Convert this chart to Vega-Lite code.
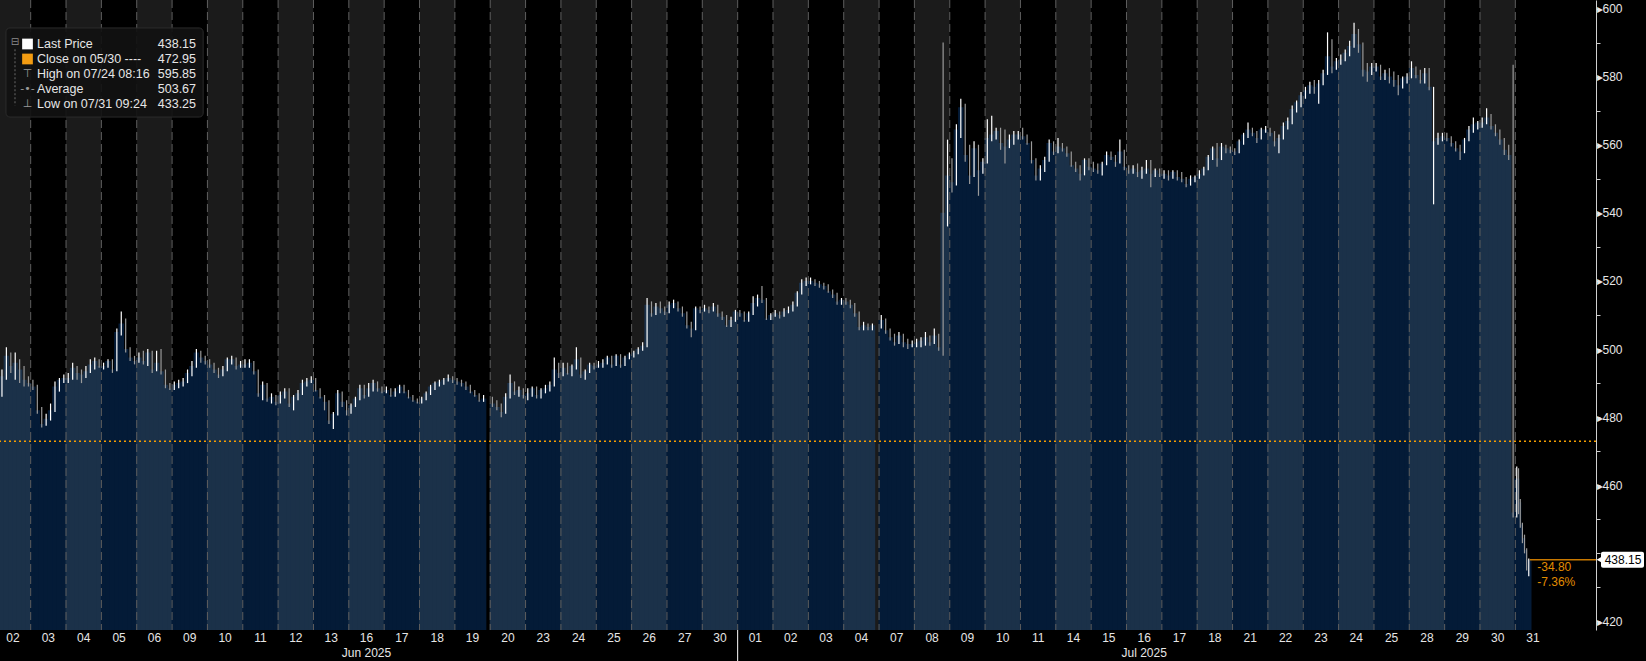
{
"$schema":"https://vega.github.io/schema/vega-lite/v6.json",
"width":1596,"height":630,
"autosize":{"type":"none"},
"padding":{"left":0,"top":0,"right":50,"bottom":31},
"background":"#000000",
"config":{"view":{"stroke":null},"font":"Liberation Sans","axis":{"zindex":1}},
"datasets":{
"days":[
{"s":0,"e":1,"mid":0.5,"lab":"02","date":"2025-06-02"},{"s":1,"e":2,"mid":1.5,"lab":"03","date":"2025-06-03"},{"s":2,"e":3,"mid":2.5,"lab":"04","date":"2025-06-04"},{"s":3,"e":4,"mid":3.5,"lab":"05","date":"2025-06-05"},{"s":4,"e":5,"mid":4.5,"lab":"06","date":"2025-06-06"},
{"s":5,"e":6,"mid":5.5,"lab":"09","date":"2025-06-09"},{"s":6,"e":7,"mid":6.5,"lab":"10","date":"2025-06-10"},{"s":7,"e":8,"mid":7.5,"lab":"11","date":"2025-06-11"},{"s":8,"e":9,"mid":8.5,"lab":"12","date":"2025-06-12"},{"s":9,"e":10,"mid":9.5,"lab":"13","date":"2025-06-13"},
{"s":10,"e":11,"mid":10.5,"lab":"16","date":"2025-06-16"},{"s":11,"e":12,"mid":11.5,"lab":"17","date":"2025-06-17"},{"s":12,"e":13,"mid":12.5,"lab":"18","date":"2025-06-18"},{"s":13,"e":14,"mid":13.5,"lab":"19","date":"2025-06-19"},{"s":14,"e":15,"mid":14.5,"lab":"20","date":"2025-06-20"},
{"s":15,"e":16,"mid":15.5,"lab":"23","date":"2025-06-23"},{"s":16,"e":17,"mid":16.5,"lab":"24","date":"2025-06-24"},{"s":17,"e":18,"mid":17.5,"lab":"25","date":"2025-06-25"},{"s":18,"e":19,"mid":18.5,"lab":"26","date":"2025-06-26"},{"s":19,"e":20,"mid":19.5,"lab":"27","date":"2025-06-27"},
{"s":20,"e":21,"mid":20.5,"lab":"30","date":"2025-06-30"},{"s":21,"e":22,"mid":21.5,"lab":"01","date":"2025-07-01"},{"s":22,"e":23,"mid":22.5,"lab":"02","date":"2025-07-02"},{"s":23,"e":24,"mid":23.5,"lab":"03","date":"2025-07-03"},{"s":24,"e":25,"mid":24.5,"lab":"04","date":"2025-07-04"},
{"s":25,"e":26,"mid":25.5,"lab":"07","date":"2025-07-07"},{"s":26,"e":27,"mid":26.5,"lab":"08","date":"2025-07-08"},{"s":27,"e":28,"mid":27.5,"lab":"09","date":"2025-07-09"},{"s":28,"e":29,"mid":28.5,"lab":"10","date":"2025-07-10"},{"s":29,"e":30,"mid":29.5,"lab":"11","date":"2025-07-11"},
{"s":30,"e":31,"mid":30.5,"lab":"14","date":"2025-07-14"},{"s":31,"e":32,"mid":31.5,"lab":"15","date":"2025-07-15"},{"s":32,"e":33,"mid":32.5,"lab":"16","date":"2025-07-16"},{"s":33,"e":34,"mid":33.5,"lab":"17","date":"2025-07-17"},{"s":34,"e":35,"mid":34.5,"lab":"18","date":"2025-07-18"},
{"s":35,"e":36,"mid":35.5,"lab":"21","date":"2025-07-21"},{"s":36,"e":37,"mid":36.5,"lab":"22","date":"2025-07-22"},{"s":37,"e":38,"mid":37.5,"lab":"23","date":"2025-07-23"},{"s":38,"e":39,"mid":38.5,"lab":"24","date":"2025-07-24"},{"s":39,"e":40,"mid":39.5,"lab":"25","date":"2025-07-25"},
{"s":40,"e":41,"mid":40.5,"lab":"28","date":"2025-07-28"},{"s":41,"e":42,"mid":41.5,"lab":"29","date":"2025-07-29"},{"s":42,"e":43,"mid":42.5,"lab":"30","date":"2025-07-30"},{"s":43,"e":44,"mid":43.5,"lab":"31","date":"2025-07-31"}
],
"months":[{"m":"Jun 2025","start":0,"mid":10.5},{"m":"Jul 2025","start":21,"mid":32.5}],
"bars":[
{"t":0.0625,"o":489,"h":490,"l":485,"c":487},{"t":0.1875,"o":487,"h":494,"l":486,"c":492},{"t":0.3125,"o":492,"h":500.5,"l":491,"c":498},{"t":0.4375,"o":498,"h":499,"l":493,"c":495},{"t":0.5625,"o":495,"h":499,"l":491,"c":496},{"t":0.6875,"o":496,"h":497,"l":490,"c":494},{"t":0.8125,"o":494,"h":495,"l":489,"c":491},{"t":0.9375,"o":491,"h":492,"l":489,"c":490},
{"t":1.0625,"o":490,"h":491,"l":488,"c":489},{"t":1.1875,"o":489,"h":489.5,"l":481,"c":482},{"t":1.3125,"o":482,"h":483,"l":477,"c":478},{"t":1.4375,"o":478,"h":481,"l":477.5,"c":479.5},{"t":1.5625,"o":479.5,"h":484,"l":479,"c":482},{"t":1.6875,"o":482,"h":490.5,"l":481.5,"c":489},{"t":1.8125,"o":489,"h":491.5,"l":487.5,"c":491},{"t":1.9375,"o":491,"h":492.5,"l":490,"c":491.5},
{"t":2.0625,"o":491.5,"h":493,"l":490,"c":491.5},{"t":2.1875,"o":491.5,"h":496,"l":491,"c":494.5},{"t":2.3125,"o":494.5,"h":495,"l":491,"c":493},{"t":2.4375,"o":493,"h":494,"l":490,"c":492.5},{"t":2.5625,"o":492.5,"h":495,"l":491.5,"c":493.5},{"t":2.6875,"o":493.5,"h":497,"l":493,"c":495.5},{"t":2.8125,"o":495.5,"h":497.5,"l":494,"c":496.5},{"t":2.9375,"o":496.5,"h":497,"l":494.5,"c":495},
{"t":3.0625,"o":495,"h":496,"l":494,"c":495},{"t":3.1875,"o":495,"h":497,"l":494.5,"c":496.5},{"t":3.3125,"o":496.5,"h":497,"l":493,"c":494},{"t":3.4375,"o":494,"h":506,"l":493.5,"c":505},{"t":3.5625,"o":505,"h":511,"l":504,"c":507.5},{"t":3.6875,"o":507.5,"h":509,"l":499,"c":500},{"t":3.8125,"o":500,"h":500.5,"l":496.5,"c":497.5},{"t":3.9375,"o":497.5,"h":498,"l":495.5,"c":496.5},
{"t":4.0625,"o":496.5,"h":499,"l":496,"c":497.5},{"t":4.1875,"o":497.5,"h":499.5,"l":495.5,"c":496.5},{"t":4.3125,"o":496.5,"h":500,"l":495,"c":499},{"t":4.4375,"o":499,"h":499.5,"l":493,"c":494},{"t":4.5625,"o":494,"h":499.5,"l":493.5,"c":496},{"t":4.6875,"o":496,"h":500,"l":492.5,"c":493.5},{"t":4.8125,"o":493.5,"h":494,"l":488.5,"c":489.5},{"t":4.9375,"o":489.5,"h":490,"l":488,"c":488.5},
{"t":5.0625,"o":488.5,"h":490.5,"l":488,"c":489.5},{"t":5.1875,"o":489.5,"h":491,"l":488.5,"c":490},{"t":5.3125,"o":490,"h":491.5,"l":489,"c":490.5},{"t":5.4375,"o":490.5,"h":494,"l":490,"c":493},{"t":5.5625,"o":493,"h":496.5,"l":492,"c":495},{"t":5.6875,"o":495,"h":500,"l":494.5,"c":499},{"t":5.8125,"o":499,"h":499.5,"l":496,"c":497.5},{"t":5.9375,"o":497.5,"h":498,"l":495.5,"c":496.5},
{"t":6.0625,"o":496.5,"h":497,"l":494.5,"c":495.5},{"t":6.1875,"o":495.5,"h":496,"l":493,"c":494},{"t":6.3125,"o":494,"h":494.5,"l":491.5,"c":492.5},{"t":6.4375,"o":492.5,"h":495,"l":492,"c":494},{"t":6.5625,"o":494,"h":497.5,"l":493.5,"c":497},{"t":6.6875,"o":497,"h":498,"l":495.5,"c":497},{"t":6.8125,"o":497,"h":497.5,"l":494,"c":495},{"t":6.9375,"o":495,"h":496.5,"l":494.5,"c":495.5},
{"t":7.0625,"o":495.5,"h":497,"l":494.5,"c":495.5},{"t":7.1875,"o":495.5,"h":497,"l":494.5,"c":496},{"t":7.3125,"o":496,"h":496.5,"l":492.5,"c":493.5},{"t":7.4375,"o":493.5,"h":494,"l":486,"c":487},{"t":7.5625,"o":487,"h":490.5,"l":485,"c":489.5},{"t":7.6875,"o":489.5,"h":490,"l":484.5,"c":485.5},{"t":7.8125,"o":485.5,"h":487,"l":484,"c":486},{"t":7.9375,"o":486,"h":486.5,"l":483.5,"c":484.5},
{"t":8.0625,"o":484.5,"h":487.5,"l":484,"c":486.5},{"t":8.1875,"o":486.5,"h":488.5,"l":485.5,"c":487.5},{"t":8.3125,"o":487.5,"h":488.5,"l":483,"c":484},{"t":8.4375,"o":484,"h":486.5,"l":482,"c":486},{"t":8.5625,"o":486,"h":488,"l":485,"c":487},{"t":8.6875,"o":487,"h":491,"l":486.5,"c":490},{"t":8.8125,"o":490,"h":491.5,"l":489,"c":490.5},{"t":8.9375,"o":490.5,"h":492,"l":490,"c":491},
{"t":9.0625,"o":491,"h":491.5,"l":487.5,"c":488},{"t":9.1875,"o":488,"h":488.5,"l":485.5,"c":486},{"t":9.3125,"o":486,"h":486.5,"l":482,"c":484.5},{"t":9.4375,"o":484.5,"h":485,"l":478,"c":479},{"t":9.5625,"o":479,"h":481.5,"l":476.5,"c":481},{"t":9.6875,"o":481,"h":488,"l":480.5,"c":487},{"t":9.8125,"o":487,"h":487.5,"l":483,"c":484.5},{"t":9.9375,"o":484.5,"h":485,"l":480.5,"c":482},
{"t":10.0625,"o":482,"h":484,"l":481,"c":483.5},{"t":10.1875,"o":483.5,"h":486,"l":483,"c":485.5},{"t":10.3125,"o":485.5,"h":489.5,"l":485,"c":488.5},{"t":10.4375,"o":488.5,"h":489.5,"l":485.5,"c":486.5},{"t":10.5625,"o":486.5,"h":490,"l":486,"c":488.5},{"t":10.6875,"o":488.5,"h":491,"l":487.5,"c":490},{"t":10.8125,"o":490,"h":490.5,"l":487.5,"c":488.5},{"t":10.9375,"o":488.5,"h":489,"l":487,"c":487.5},
{"t":11.0625,"o":487.5,"h":489,"l":487,"c":488},{"t":11.1875,"o":488,"h":488.5,"l":486,"c":486.5},{"t":11.3125,"o":486.5,"h":488.5,"l":486,"c":487.5},{"t":11.4375,"o":487.5,"h":489.5,"l":487,"c":489},{"t":11.5625,"o":489,"h":489.5,"l":487,"c":487.5},{"t":11.6875,"o":487.5,"h":488,"l":485.5,"c":486},{"t":11.8125,"o":486,"h":486.5,"l":484.5,"c":485},{"t":11.9375,"o":485,"h":485.5,"l":484,"c":484.5},
{"t":12.0625,"o":484.5,"h":486,"l":484,"c":485.5},{"t":12.1875,"o":485.5,"h":487.5,"l":485,"c":487},{"t":12.3125,"o":487,"h":489.5,"l":486.5,"c":489},{"t":12.4375,"o":489,"h":490.5,"l":488,"c":490},{"t":12.5625,"o":490,"h":491,"l":489,"c":490.5},{"t":12.6875,"o":490.5,"h":491.5,"l":489.5,"c":491},{"t":12.8125,"o":491,"h":492.5,"l":490.5,"c":491.5},{"t":12.9375,"o":491.5,"h":492,"l":490,"c":491},
{"t":13.0625,"o":491,"h":491.5,"l":489.5,"c":490.5},{"t":13.1875,"o":490.5,"h":491,"l":489,"c":490},{"t":13.3125,"o":490,"h":490.5,"l":488,"c":489},{"t":13.4375,"o":489,"h":489.5,"l":487,"c":487.5},{"t":13.5625,"o":487.5,"h":488,"l":486,"c":486.5},{"t":13.6875,"o":486.5,"h":487,"l":484.5,"c":485},{"t":13.8125,"o":485,"h":486.5,"l":484.5,"c":485.5},
{"t":14.0625,"o":485.5,"h":486,"l":483,"c":484},{"t":14.1875,"o":484,"h":485,"l":482,"c":483},{"t":14.3125,"o":483,"h":484,"l":480,"c":481.5},{"t":14.4375,"o":481.5,"h":487,"l":481,"c":486},{"t":14.5625,"o":486,"h":492.5,"l":485.5,"c":490},{"t":14.6875,"o":490,"h":490.5,"l":486.5,"c":487.5},{"t":14.8125,"o":487.5,"h":489,"l":486,"c":488},{"t":14.9375,"o":488,"h":488.5,"l":485.5,"c":486.5},
{"t":15.0625,"o":486.5,"h":488.5,"l":485,"c":487},{"t":15.1875,"o":487,"h":489,"l":486,"c":488.5},{"t":15.3125,"o":488.5,"h":489,"l":485.5,"c":486.5},{"t":15.4375,"o":486.5,"h":488.5,"l":485.5,"c":488},{"t":15.5625,"o":488,"h":489.5,"l":487,"c":488.5},{"t":15.6875,"o":488.5,"h":490.5,"l":487.5,"c":489.5},{"t":15.8125,"o":489.5,"h":497.5,"l":489,"c":494},{"t":15.9375,"o":494,"h":496,"l":491.5,"c":493},
{"t":16.0625,"o":493,"h":496,"l":492,"c":494.5},{"t":16.1875,"o":494.5,"h":496,"l":492.5,"c":493},{"t":16.3125,"o":493,"h":495.5,"l":492,"c":495},{"t":16.4375,"o":495,"h":500.5,"l":494,"c":497},{"t":16.5625,"o":497,"h":497.5,"l":491.5,"c":492.5},{"t":16.6875,"o":492.5,"h":494,"l":491,"c":493.5},{"t":16.8125,"o":493.5,"h":496,"l":493,"c":495.5},{"t":16.9375,"o":495.5,"h":496,"l":494,"c":495},
{"t":17.0625,"o":495,"h":496.5,"l":494.5,"c":495.5},{"t":17.1875,"o":495.5,"h":497,"l":494.5,"c":496},{"t":17.3125,"o":496,"h":498,"l":495.5,"c":497.5},{"t":17.4375,"o":497.5,"h":498,"l":494.5,"c":495.5},{"t":17.5625,"o":495.5,"h":498.5,"l":495,"c":498},{"t":17.6875,"o":498,"h":498.5,"l":494.5,"c":495.5},{"t":17.8125,"o":495.5,"h":498,"l":495,"c":497.5},{"t":17.9375,"o":497.5,"h":499,"l":497,"c":498.5},
{"t":18.0625,"o":498.5,"h":499.5,"l":497.5,"c":499},{"t":18.1875,"o":499,"h":500.5,"l":498.5,"c":500},{"t":18.3125,"o":500,"h":502,"l":499.5,"c":501},{"t":18.4375,"o":501,"h":515,"l":500.5,"c":513},{"t":18.5625,"o":513,"h":514,"l":509.5,"c":510.5},{"t":18.6875,"o":510.5,"h":513.5,"l":510,"c":512.5},{"t":18.8125,"o":512.5,"h":514,"l":510.5,"c":512},{"t":18.9375,"o":512,"h":512.5,"l":510,"c":511},
{"t":19.0625,"o":511,"h":514,"l":510.5,"c":513},{"t":19.1875,"o":513,"h":514.5,"l":512,"c":513.5},{"t":19.3125,"o":513.5,"h":514,"l":511,"c":512},{"t":19.4375,"o":512,"h":512.5,"l":509.5,"c":510.5},{"t":19.5625,"o":510.5,"h":511,"l":506,"c":507},{"t":19.6875,"o":507,"h":508,"l":503.5,"c":506},{"t":19.8125,"o":506,"h":512.5,"l":505.5,"c":512},{"t":19.9375,"o":512,"h":512.5,"l":510.5,"c":511.5},
{"t":20.0625,"o":511.5,"h":513,"l":511,"c":512},{"t":20.1875,"o":512,"h":512.5,"l":510.5,"c":511.5},{"t":20.3125,"o":511.5,"h":513.5,"l":511,"c":512.5},{"t":20.4375,"o":512.5,"h":513,"l":509.5,"c":510.5},{"t":20.5625,"o":510.5,"h":511,"l":508.5,"c":509.5},{"t":20.6875,"o":509.5,"h":510,"l":506.5,"c":507},{"t":20.8125,"o":507,"h":509.5,"l":506.5,"c":508.5},{"t":20.9375,"o":508.5,"h":511.5,"l":508,"c":511},
{"t":21.0625,"o":511,"h":511.5,"l":509.5,"c":510.5},{"t":21.1875,"o":510.5,"h":511,"l":508,"c":508.5},{"t":21.3125,"o":508.5,"h":511,"l":508,"c":510.5},{"t":21.4375,"o":510.5,"h":515.5,"l":510,"c":513.5},{"t":21.5625,"o":513.5,"h":516,"l":512.5,"c":515},{"t":21.6875,"o":515,"h":518.5,"l":513.5,"c":514.5},{"t":21.8125,"o":514.5,"h":515,"l":508.5,"c":509},{"t":21.9375,"o":509,"h":510.5,"l":508.5,"c":510},
{"t":22.0625,"o":510,"h":511.5,"l":509.5,"c":510.5},{"t":22.1875,"o":510.5,"h":511,"l":509,"c":510},{"t":22.3125,"o":510,"h":512,"l":509.5,"c":511},{"t":22.4375,"o":511,"h":512.5,"l":510.5,"c":511.5},{"t":22.5625,"o":511.5,"h":514,"l":511,"c":513},{"t":22.6875,"o":513,"h":517,"l":512.5,"c":516.5},{"t":22.8125,"o":516.5,"h":520.5,"l":516,"c":519.5},{"t":22.9375,"o":519.5,"h":521,"l":518.5,"c":520},
{"t":23.0625,"o":520,"h":521,"l":519,"c":520},{"t":23.1875,"o":520,"h":520.5,"l":518.5,"c":519.5},{"t":23.3125,"o":519.5,"h":520,"l":518,"c":519},{"t":23.4375,"o":519,"h":519.5,"l":517.5,"c":518.5},{"t":23.5625,"o":518.5,"h":519,"l":516.5,"c":517},{"t":23.6875,"o":517,"h":517.5,"l":515,"c":516},{"t":23.8125,"o":516,"h":516.5,"l":513,"c":514},{"t":23.9375,"o":514,"h":515,"l":513,"c":514.5},
{"t":24.0625,"o":514.5,"h":515,"l":513,"c":514},{"t":24.1875,"o":514,"h":514.5,"l":512,"c":513},{"t":24.3125,"o":513,"h":513.5,"l":509.5,"c":510.5},{"t":24.4375,"o":510.5,"h":511,"l":505.5,"c":506.5},{"t":24.5625,"o":506.5,"h":508,"l":505.5,"c":507},{"t":24.6875,"o":507,"h":507.5,"l":505.5,"c":506.5},{"t":24.8125,"o":506.5,"h":507.5,"l":505.5,"c":507},
{"t":25.0625,"o":507,"h":510,"l":506,"c":508.5},{"t":25.1875,"o":508.5,"h":509,"l":504.5,"c":505.5},{"t":25.3125,"o":505.5,"h":506,"l":502.5,"c":503.5},{"t":25.4375,"o":503.5,"h":504.5,"l":501,"c":502},{"t":25.5625,"o":502,"h":505,"l":501.5,"c":504},{"t":25.6875,"o":504,"h":504.5,"l":500.5,"c":502},{"t":25.8125,"o":502,"h":503,"l":500,"c":501.5},{"t":25.9375,"o":501.5,"h":502.5,"l":500.5,"c":501.5},
{"t":26.0625,"o":501.5,"h":503,"l":500.5,"c":502},{"t":26.1875,"o":502,"h":503.5,"l":500.5,"c":502.5},{"t":26.3125,"o":502.5,"h":505,"l":501,"c":503.5},{"t":26.4375,"o":503.5,"h":504,"l":501,"c":502},{"t":26.5625,"o":502,"h":506,"l":501.5,"c":504},{"t":26.6875,"o":504,"h":504.5,"l":499.5,"c":500.5},{"t":26.8125,"o":589,"h":590,"l":498,"c":540},{"t":26.9375,"o":540,"h":561.5,"l":536,"c":551},
{"t":27.0625,"o":551,"h":556,"l":546,"c":549},{"t":27.1875,"o":549,"h":566,"l":548,"c":564.5},{"t":27.3125,"o":564.5,"h":573.5,"l":562,"c":571},{"t":27.4375,"o":571,"h":572,"l":555,"c":557},{"t":27.5625,"o":557,"h":560,"l":548.5,"c":551},{"t":27.6875,"o":551,"h":561,"l":550.5,"c":559},{"t":27.8125,"o":559,"h":560,"l":545,"c":552.5},{"t":27.9375,"o":552.5,"h":556,"l":551.5,"c":555},
{"t":28.0625,"o":555,"h":567.5,"l":554.5,"c":562},{"t":28.1875,"o":562,"h":568.5,"l":561,"c":563},{"t":28.3125,"o":563,"h":565,"l":561.5,"c":564},{"t":28.4375,"o":564,"h":565,"l":558.5,"c":560.5},{"t":28.5625,"o":560.5,"h":564.5,"l":554.5,"c":559.5},{"t":28.6875,"o":559.5,"h":563,"l":559,"c":561.5},{"t":28.8125,"o":561.5,"h":564,"l":560,"c":563},{"t":28.9375,"o":563,"h":564,"l":561.5,"c":563},
{"t":29.0625,"o":563,"h":565,"l":561.5,"c":562.5},{"t":29.1875,"o":562.5,"h":563,"l":560,"c":560.5},{"t":29.3125,"o":560.5,"h":561,"l":554.5,"c":555.5},{"t":29.4375,"o":555.5,"h":556,"l":549.5,"c":551},{"t":29.5625,"o":551,"h":554,"l":549.5,"c":553},{"t":29.6875,"o":553,"h":556.5,"l":552,"c":555.5},{"t":29.8125,"o":555.5,"h":561.5,"l":555,"c":560.5},{"t":29.9375,"o":560.5,"h":561,"l":557,"c":558},
{"t":30.0625,"o":558,"h":562,"l":557.5,"c":559.5},{"t":30.1875,"o":559.5,"h":560.5,"l":558,"c":559},{"t":30.3125,"o":559,"h":559.5,"l":556.5,"c":557.5},{"t":30.4375,"o":557.5,"h":558,"l":553.5,"c":554},{"t":30.5625,"o":554,"h":555,"l":552,"c":553},{"t":30.6875,"o":553,"h":554,"l":549.5,"c":551.5},{"t":30.8125,"o":551.5,"h":556,"l":551,"c":555.5},{"t":30.9375,"o":555.5,"h":556,"l":552.5,"c":553.5},
{"t":31.0625,"o":553.5,"h":555,"l":552,"c":553},{"t":31.1875,"o":553,"h":554.5,"l":551.5,"c":552.5},{"t":31.3125,"o":552.5,"h":555,"l":551,"c":554.5},{"t":31.4375,"o":554.5,"h":558,"l":554,"c":557},{"t":31.5625,"o":557,"h":558,"l":555.5,"c":556.5},{"t":31.6875,"o":556.5,"h":557,"l":553.5,"c":555},{"t":31.8125,"o":555,"h":561.5,"l":554.5,"c":558},{"t":31.9375,"o":558,"h":558.5,"l":552.5,"c":553.5},
{"t":32.0625,"o":553.5,"h":554,"l":551.5,"c":552.5},{"t":32.1875,"o":552.5,"h":554,"l":551.5,"c":553},{"t":32.3125,"o":553,"h":554.5,"l":550.5,"c":552},{"t":32.4375,"o":552,"h":553.5,"l":550,"c":552.5},{"t":32.5625,"o":552.5,"h":555.5,"l":551.5,"c":553},{"t":32.6875,"o":553,"h":555.5,"l":547.5,"c":551.5},{"t":32.8125,"o":551.5,"h":553,"l":550.5,"c":552.5},{"t":32.9375,"o":552.5,"h":553,"l":550.5,"c":551.5},
{"t":33.0625,"o":551.5,"h":552.5,"l":550,"c":551.5},{"t":33.1875,"o":551.5,"h":552.5,"l":549.5,"c":551},{"t":33.3125,"o":551,"h":552.5,"l":550,"c":552},{"t":33.4375,"o":552,"h":552.5,"l":549.5,"c":550.5},{"t":33.5625,"o":550.5,"h":552,"l":549,"c":550},{"t":33.6875,"o":550,"h":550.5,"l":547.5,"c":548.5},{"t":33.8125,"o":548.5,"h":551,"l":548,"c":550},{"t":33.9375,"o":550,"h":551,"l":549,"c":550.5},
{"t":34.0625,"o":550.5,"h":552.5,"l":550,"c":551.5},{"t":34.1875,"o":551.5,"h":553.5,"l":551,"c":553},{"t":34.3125,"o":553,"h":557,"l":552.5,"c":556.5},{"t":34.4375,"o":556.5,"h":559.5,"l":555.5,"c":559},{"t":34.5625,"o":559,"h":560.5,"l":553.5,"c":556},{"t":34.6875,"o":556,"h":560.5,"l":555.5,"c":559.5},{"t":34.8125,"o":559.5,"h":560,"l":557.5,"c":559},{"t":34.9375,"o":559,"h":559.5,"l":557.5,"c":558.5},
{"t":35.0625,"o":558.5,"h":559,"l":557,"c":558},{"t":35.1875,"o":558,"h":561.5,"l":557.5,"c":561},{"t":35.3125,"o":561,"h":563.5,"l":560,"c":563},{"t":35.4375,"o":563,"h":566.5,"l":562,"c":564.5},{"t":35.5625,"o":564.5,"h":565,"l":562.5,"c":563.5},{"t":35.6875,"o":563.5,"h":564,"l":560.5,"c":562},{"t":35.8125,"o":562,"h":565,"l":561.5,"c":564.5},{"t":35.9375,"o":564.5,"h":565.5,"l":563.5,"c":564.5},
{"t":36.0625,"o":564.5,"h":565,"l":562.5,"c":563.5},{"t":36.1875,"o":563.5,"h":564,"l":559.5,"c":561},{"t":36.3125,"o":561,"h":563,"l":557.5,"c":562},{"t":36.4375,"o":562,"h":566.5,"l":561.5,"c":565.5},{"t":36.5625,"o":565.5,"h":568,"l":564.5,"c":567},{"t":36.6875,"o":567,"h":571.5,"l":566,"c":570.5},{"t":36.8125,"o":570.5,"h":573,"l":569.5,"c":572.5},{"t":36.9375,"o":572.5,"h":575.5,"l":571,"c":574.5},
{"t":37.0625,"o":574.5,"h":577,"l":573.5,"c":576},{"t":37.1875,"o":576,"h":578.5,"l":575,"c":577.5},{"t":37.3125,"o":577.5,"h":579,"l":575,"c":577},{"t":37.4375,"o":577,"h":579,"l":572,"c":578},{"t":37.5625,"o":578,"h":582,"l":577.5,"c":581},{"t":37.6875,"o":581,"h":593,"l":580.5,"c":586},{"t":37.8125,"o":586,"h":591,"l":581,"c":583},{"t":37.9375,"o":583,"h":585.5,"l":582,"c":584.5},
{"t":38.0625,"o":584.5,"h":586.5,"l":583.5,"c":585},{"t":38.1875,"o":585,"h":588,"l":584.5,"c":587},{"t":38.3125,"o":587,"h":590.5,"l":586,"c":589},{"t":38.4375,"o":589,"h":595.85,"l":588.5,"c":592.5},{"t":38.5625,"o":592.5,"h":594,"l":587,"c":589.5},{"t":38.6875,"o":589.5,"h":590,"l":580,"c":582},{"t":38.8125,"o":582,"h":584,"l":578.5,"c":581.5},{"t":38.9375,"o":581.5,"h":584,"l":580.5,"c":583},
{"t":39.0625,"o":583,"h":584,"l":581.5,"c":583},{"t":39.1875,"o":583,"h":583.5,"l":579,"c":580},{"t":39.3125,"o":580,"h":582,"l":579,"c":581},{"t":39.4375,"o":581,"h":582.5,"l":578,"c":580},{"t":39.5625,"o":580,"h":581.5,"l":577,"c":579},{"t":39.6875,"o":579,"h":580.5,"l":574.5,"c":577.5},{"t":39.8125,"o":577.5,"h":580,"l":576.5,"c":579.5},{"t":39.9375,"o":579.5,"h":581,"l":578,"c":580},
{"t":40.0625,"o":580,"h":584.5,"l":579.5,"c":582.5},{"t":40.1875,"o":582.5,"h":583,"l":579.5,"c":580.5},{"t":40.3125,"o":580.5,"h":582,"l":578,"c":579},{"t":40.4375,"o":579,"h":582.5,"l":578,"c":581},{"t":40.5625,"o":581,"h":582.5,"l":576,"c":577},{"t":40.6875,"o":546,"h":577,"l":542.5,"c":561},{"t":40.8125,"o":561,"h":563.5,"l":560,"c":562},{"t":40.9375,"o":562,"h":563.5,"l":561,"c":562.5},
{"t":41.0625,"o":562.5,"h":563.5,"l":561,"c":562},{"t":41.1875,"o":562,"h":562.5,"l":559.5,"c":560.5},{"t":41.3125,"o":560.5,"h":561,"l":558,"c":559},{"t":41.4375,"o":559,"h":560,"l":555.5,"c":558},{"t":41.5625,"o":558,"h":562,"l":557.5,"c":561.5},{"t":41.6875,"o":561.5,"h":565.5,"l":561,"c":564.5},{"t":41.8125,"o":564.5,"h":568,"l":563.5,"c":566},{"t":41.9375,"o":566,"h":567,"l":564.5,"c":566.5},
{"t":42.0625,"o":566.5,"h":568,"l":565,"c":566.5},{"t":42.1875,"o":566.5,"h":570.7,"l":566,"c":568},{"t":42.3125,"o":568,"h":569,"l":564.5,"c":565.5},{"t":42.4375,"o":565.5,"h":566,"l":562.5,"c":563.5},{"t":42.5625,"o":563.5,"h":564.5,"l":560,"c":561.5},{"t":42.6875,"o":561.5,"h":562,"l":557,"c":558.5},{"t":42.8125,"o":558.5,"h":560,"l":555.5,"c":557},{"t":42.9375,"o":583,"h":583.5,"l":450.5,"c":452},
{"t":43.04,"o":451,"h":465.5,"l":450.5,"c":462},{"t":43.09,"o":462,"h":465,"l":451.5,"c":455},{"t":43.14,"o":455,"h":456,"l":447.5,"c":448.5},{"t":43.2,"o":448.5,"h":449,"l":443,"c":444.5},{"t":43.26,"o":444.5,"h":445.5,"l":440,"c":441},{"t":43.32,"o":441,"h":441.5,"l":435,"c":436.5},{"t":43.38,"o":436.5,"h":438.5,"l":433.25,"c":438.15}
],
"legend":[
{"row":0,"name":"Last Price","val":438.15},
{"row":1,"name":"Close on 05/30 ----","val":472.95},
{"row":2,"name":"High on 07/24 08:16","val":595.85},
{"row":3,"name":"Average","val":503.67},
{"row":4,"name":"Low on 07/31 09:24","val":433.25}
]
},
"layer":[
 {"data":{"name":"days"},"mark":{"type":"rect"},
  "encoding":{"x":{"field":"s","type":"quantitative","scale":{"domain":[0.132,45.282],"nice":false,"zero":false,"padding":0},"axis":null},"x2":{"field":"e"},
  "color":{"condition":{"test":"datum.s % 2 == 0","value":"#1b1b1b"},"value":"#000000"}}},
 {"data":{"name":"bars"},"mark":{"type":"bar","width":5.5,"orient":"vertical"},
  "encoding":{
   "x":{"field":"t","type":"quantitative","scale":{"domain":[0.132,45.282],"nice":false,"zero":false,"padding":0},
     "axis":{"orient":"bottom","title":null,"grid":false,"labels":false,"ticks":false,"domainColor":"#ffffff","domainWidth":1}},
   "y":{"field":"c","type":"quantitative","scale":{"domain":[417.5,602.5],"nice":false,"zero":false,"padding":0},
     "axis":{"orient":"right","title":null,"grid":false,
       "values":[420,430,440,450,460,470,480,490,500,510,520,530,540,550,560,570,580,590,600],
       "labelExpr":"(datum.value % 20 == 0 && datum.value != 440) ? '▸' + datum.label : ''",
       "labelColor":"#e6e6e6","labelFontSize":12,"labelFont":"Liberation Sans","labelPadding":-4,"labelOverlap":false,"labelFlush":false,"labelBound":false,
       "tickSize":4,"tickColor":"#cfcfcf","domainColor":"#cfcfcf","domainWidth":1}},
   "y2":{"datum":417.5},
   "color":{"condition":{"test":"floor(datum.t) % 2 == 0","value":"#1b3149"},"value":"#041b37"}}},
 {"data":{"name":"days"},"mark":{"type":"rule","strokeDash":[8,4],"color":"#5e5e5e","strokeWidth":1},
  "encoding":{"x":{"field":"s","type":"quantitative","scale":{"domain":[0.132,45.282],"nice":false,"zero":false,"padding":0},"axis":null}}},
 {"data":{"values":[{}]},"mark":{"type":"rule","color":"#f5a000","strokeDash":[2,3],"strokeWidth":1.5},
  "encoding":{"y":{"datum":472.95,"type":"quantitative","scale":{"domain":[417.5,602.5],"nice":false,"zero":false,"padding":0},"axis":null}}},
 {"data":{"name":"bars"},"mark":{"type":"rule","strokeWidth":1.2},
  "encoding":{
   "x":{"field":"t","type":"quantitative","scale":{"domain":[0.132,45.282],"nice":false,"zero":false,"padding":0},"axis":null},
   "y":{"field":"l","type":"quantitative","scale":{"domain":[417.5,602.5],"nice":false,"zero":false,"padding":0},"axis":null},
   "y2":{"field":"h"},
   "color":{"condition":{"test":"datum.c >= datum.o","value":"#ffffff"},"value":"#9a9a9a"}}},
 {"data":{"values":[{}]},"mark":{"type":"rule","color":"#c87800","strokeWidth":1.5},
  "encoding":{
   "x":{"datum":43.41,"type":"quantitative","scale":{"domain":[0.132,45.282],"nice":false,"zero":false,"padding":0},"axis":null},
   "x2":{"datum":45.282},
   "y":{"datum":438.15,"type":"quantitative","scale":{"domain":[417.5,602.5],"nice":false,"zero":false,"padding":0},"axis":null}}},
 {"data":{"values":[{}]},"mark":{"type":"text","text":["-34.80","-7.36%"],"align":"left","baseline":"top","dy":2,"fontSize":12,"lineHeight":15,"color":"#e08c00","font":"Liberation Sans"},
  "encoding":{
   "x":{"datum":43.62,"type":"quantitative","scale":{"domain":[0.132,45.282],"nice":false,"zero":false,"padding":0},"axis":null},
   "y":{"datum":438.15,"type":"quantitative","scale":{"domain":[417.5,602.5],"nice":false,"zero":false,"padding":0},"axis":null}}},
 {"data":{"values":[{}]},"mark":{"type":"rect","color":"#ffffff","cornerRadius":2,"xOffset":5,"x2Offset":48,"yOffset":-8,"y2Offset":8},
  "encoding":{
   "x":{"datum":45.282,"type":"quantitative","scale":{"domain":[0.132,45.282],"nice":false,"zero":false,"padding":0},"axis":null},
   "x2":{"datum":45.282},
   "y":{"datum":438.15,"type":"quantitative","scale":{"domain":[417.5,602.5],"nice":false,"zero":false,"padding":0},"axis":null},
   "y2":{"datum":438.15}}},
 {"data":{"values":[{}]},"mark":{"type":"point","shape":"triangle-left","filled":true,"color":"#ffffff","size":60,"opacity":1,"xOffset":4},
  "encoding":{
   "x":{"datum":45.282,"type":"quantitative","scale":{"domain":[0.132,45.282],"nice":false,"zero":false,"padding":0},"axis":null},
   "y":{"datum":438.15,"type":"quantitative","scale":{"domain":[417.5,602.5],"nice":false,"zero":false,"padding":0},"axis":null}}},
 {"data":{"values":[{}]},"mark":{"type":"text","text":"438.15","align":"center","baseline":"middle","dx":27,"fontSize":12,"color":"#000000","font":"Liberation Sans"},
  "encoding":{
   "x":{"datum":45.282,"type":"quantitative","scale":{"domain":[0.132,45.282],"nice":false,"zero":false,"padding":0},"axis":null},
   "y":{"datum":438.15,"type":"quantitative","scale":{"domain":[417.5,602.5],"nice":false,"zero":false,"padding":0},"axis":null}}},
 {"data":{"name":"days"},"mark":{"type":"text","align":"center","baseline":"middle","fontSize":12,"color":"#e6e6e6","font":"Liberation Sans"},
  "encoding":{
   "x":{"field":"mid","type":"quantitative","scale":{"domain":[0.132,45.282],"nice":false,"zero":false,"padding":0},"axis":null},
   "y":{"datum":415.15,"type":"quantitative","scale":{"domain":[417.5,602.5],"nice":false,"zero":false,"padding":0},"axis":null},
   "text":{"field":"lab"}}},
 {"data":{"name":"months"},"mark":{"type":"text","align":"center","baseline":"middle","fontSize":12,"color":"#e6e6e6","font":"Liberation Sans"},
  "encoding":{
   "x":{"field":"mid","type":"quantitative","scale":{"domain":[0.132,45.282],"nice":false,"zero":false,"padding":0},"axis":null},
   "y":{"datum":410.75,"type":"quantitative","scale":{"domain":[417.5,602.5],"nice":false,"zero":false,"padding":0},"axis":null},
   "text":{"field":"m"}}},
 {"data":{"name":"months"},"transform":[{"filter":"datum.start > 0"}],"mark":{"type":"rule","color":"#ffffff","strokeWidth":1},
  "encoding":{
   "x":{"field":"start","type":"quantitative","scale":{"domain":[0.132,45.282],"nice":false,"zero":false,"padding":0},"axis":null},
   "y":{"datum":417.5,"type":"quantitative","scale":{"domain":[417.5,602.5],"nice":false,"zero":false,"padding":0},"axis":null},
   "y2":{"datum":408.4}}},
 {"data":{"values":[{}]},"mark":{"type":"rect","color":"#121212","opacity":0.92,"stroke":"#2e2e2e","strokeWidth":1,"cornerRadius":4},
  "encoding":{
   "x":{"datum":0.3,"type":"quantitative","scale":{"domain":[0.132,45.282],"nice":false,"zero":false,"padding":0},"axis":null},
   "x2":{"datum":5.88},
   "y":{"datum":-1.07,"type":"quantitative","scale":{"domain":[-2.933,39.067],"reverse":true,"nice":false,"zero":false},"axis":null},
   "y2":{"datum":4.87}}},
 {"data":{"values":[{}]},"mark":{"type":"rule","color":"#6a6a6a","strokeDash":[2,2],"strokeWidth":1},
  "encoding":{
   "x":{"datum":0.556,"type":"quantitative","scale":{"domain":[0.132,45.282],"nice":false,"zero":false,"padding":0},"axis":null},
   "y":{"datum":0.35,"type":"quantitative","scale":{"domain":[-2.933,39.067],"reverse":true,"nice":false,"zero":false},"axis":null},
   "y2":{"datum":4.1}}},
 {"data":{"values":[{}]},"mark":{"type":"text","text":"⊟","fontSize":10,"color":"#8a8a8a","align":"center","baseline":"middle","font":"DejaVu Sans"},
  "encoding":{
   "x":{"datum":0.556,"type":"quantitative","scale":{"domain":[0.132,45.282],"nice":false,"zero":false,"padding":0},"axis":null},
   "y":{"datum":-0.15,"type":"quantitative","scale":{"domain":[-2.933,39.067],"reverse":true,"nice":false,"zero":false},"axis":null}}},
 {"data":{"name":"legend"},"transform":[{"filter":"datum.row <= 1"}],"mark":{"type":"point","shape":"square","filled":true,"size":115,"opacity":1},
  "encoding":{
   "x":{"datum":0.91,"type":"quantitative","scale":{"domain":[0.132,45.282],"nice":false,"zero":false,"padding":0},"axis":null},
   "y":{"field":"row","type":"quantitative","scale":{"domain":[-2.933,39.067],"reverse":true,"nice":false,"zero":false},"axis":null},
   "color":{"condition":{"test":"datum.row == 0","value":"#ffffff"},"value":"#f39c12"}}},
 {"data":{"name":"legend"},"transform":[{"filter":"datum.row >= 2"}],"mark":{"type":"text","fontSize":11,"color":"#9a9a9a","align":"center","baseline":"middle","font":"DejaVu Sans"},
  "encoding":{
   "x":{"datum":0.91,"type":"quantitative","scale":{"domain":[0.132,45.282],"nice":false,"zero":false,"padding":0},"axis":null},
   "y":{"field":"row","type":"quantitative","scale":{"domain":[-2.933,39.067],"reverse":true,"nice":false,"zero":false},"axis":null},
   "text":{"condition":[{"test":"datum.row == 2","value":"⊤"},{"test":"datum.row == 3","value":"-•-"}],"value":"⊥"}}},
 {"data":{"name":"legend"},"mark":{"type":"text","fontSize":12.5,"color":"#e6e6e6","align":"left","baseline":"middle","font":"Liberation Sans"},
  "encoding":{
   "x":{"datum":1.18,"type":"quantitative","scale":{"domain":[0.132,45.282],"nice":false,"zero":false,"padding":0},"axis":null},
   "y":{"field":"row","type":"quantitative","scale":{"domain":[-2.933,39.067],"reverse":true,"nice":false,"zero":false},"axis":null},
   "text":{"field":"name"}}},
 {"data":{"name":"legend"},"mark":{"type":"text","fontSize":12.5,"color":"#e6e6e6","align":"right","baseline":"middle","font":"Liberation Sans"},
  "encoding":{
   "x":{"datum":5.677,"type":"quantitative","scale":{"domain":[0.132,45.282],"nice":false,"zero":false,"padding":0},"axis":null},
   "y":{"field":"row","type":"quantitative","scale":{"domain":[-2.933,39.067],"reverse":true,"nice":false,"zero":false},"axis":null},
   "text":{"field":"val","format":".2f"}}}
],
"resolve":{"scale":{"y":"independent"}}
}
